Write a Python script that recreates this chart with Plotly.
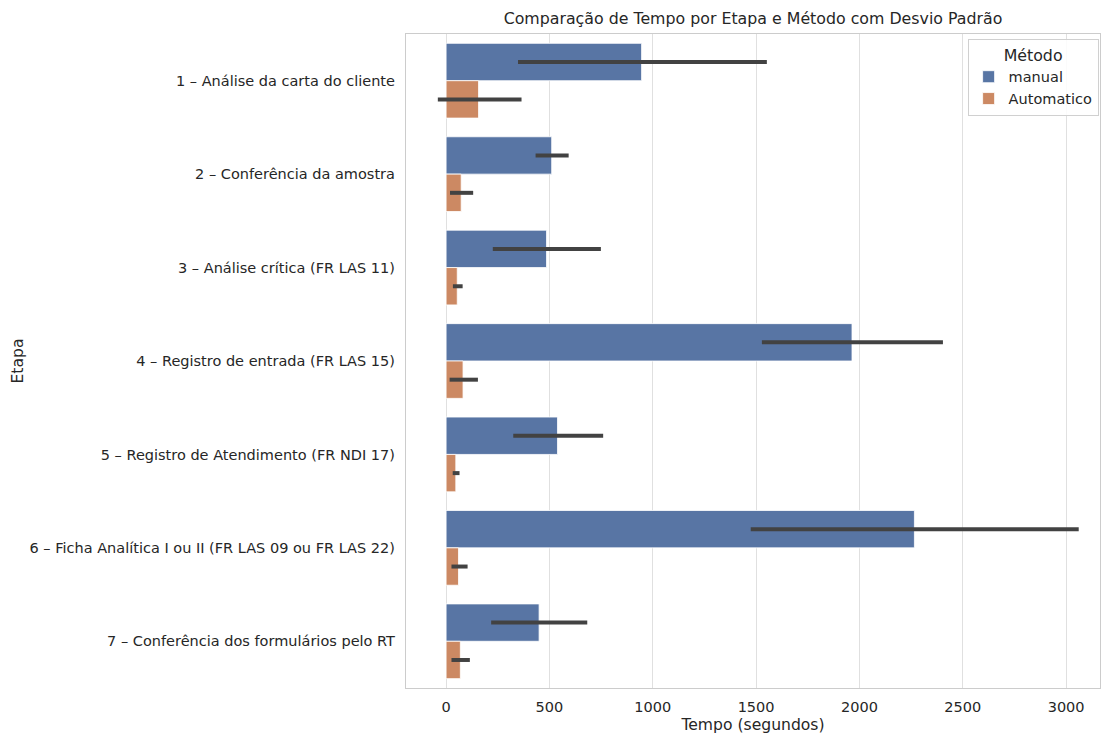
import plotly.graph_objects as go

etapas = [
    "1 – Análise da carta do cliente",
    "2 – Conferência da amostra",
    "3 – Análise crítica (FR LAS 11)",
    "4 – Registro de entrada (FR LAS 15)",
    "5 – Registro de Atendimento (FR NDI 17)",
    "6 – Ficha Analítica I ou II (FR LAS 09 ou FR LAS 22)",
    "7 – Conferência dos formulários pelo RT",
]
manual_mean = [946, 511, 486, 1964, 539, 2266, 450]
manual_lo = [348, 433, 226, 1528, 325, 1474, 218]
manual_hi = [1552, 593, 749, 2404, 760, 3061, 683]
auto_mean = [157, 73, 54, 82, 47, 60, 69]
auto_lo = [-40, 19, 33, 17, 32, 26, 26]
auto_hi = [365, 131, 80, 154, 65, 104, 115]

FONT = "DejaVu Sans"
TXT = "#262626"

def trace(name, mean, lo, hi, color):
    return go.Bar(
        name=name, y=etapas, x=mean, orientation="h",
        marker=dict(color=color, line=dict(color="white", width=0.8)),
        error_x=dict(type="data", symmetric=False,
                     array=[h - m for h, m in zip(hi, mean)],
                     arrayminus=[m - l for m, l in zip(mean, lo)],
                     color="#424242", thickness=4, width=0),
    )

fig = go.Figure([
    trace("manual", manual_mean, manual_lo, manual_hi, "#5875A4"),
    trace("Automatico", auto_mean, auto_lo, auto_hi, "#CC8963"),
])

fig.update_layout(
    width=1102, height=735,
    margin=dict(l=406, r=2, t=34, b=47),
    paper_bgcolor="white", plot_bgcolor="white",
    font=dict(family=FONT, size=14.5, color=TXT),
    barmode="group", bargap=0.2, bargroupgap=0,
    title=dict(text="Comparação de Tempo por Etapa e Método com Desvio Padrão",
               x=0.5, xref="paper", xanchor="center", y=1 - 18 / 735, yanchor="middle",
               font=dict(size=15.8, color=TXT)),
    legend=dict(title=dict(text="Método", side="top center", font=dict(size=15.8)),
                x=0.998, y=0.992, xanchor="right", yanchor="top",
                bgcolor="rgba(255,255,255,0.85)", bordercolor="#D0D0D0", borderwidth=1,
                font=dict(size=14.5), itemwidth=30, traceorder="normal"),
    showlegend=True,
)
fig.update_xaxes(
    range=[-194, 3164], tickvals=[0, 500, 1000, 1500, 2000, 2500, 3000],
    showgrid=True, gridcolor="#E0E0E0", gridwidth=1.2, zeroline=False,
    showline=True, mirror=True, linecolor="#CCCCCC", linewidth=1.3,
    ticks="", ticklabelstandoff=5,
    title=dict(text="Tempo (segundos)", standoff=5, font=dict(size=15.6)),
)
fig.update_yaxes(
    autorange="reversed", showgrid=False, zeroline=False,
    showline=True, mirror=True, linecolor="#CCCCCC", linewidth=1.3,
    ticks="", ticklabelstandoff=7,
    title=dict(text="Etapa", standoff=2, font=dict(size=15.6)),
)
fig.write_html("out.html")
